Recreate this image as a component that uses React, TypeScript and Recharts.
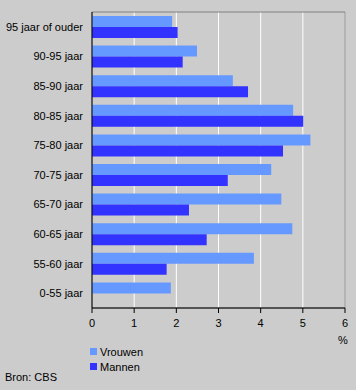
import { BarChart, Bar, XAxis, YAxis, CartesianGrid, ReferenceArea } from 'recharts';

const categories = [
  '95 jaar of ouder',
  '90-95 jaar',
  '85-90 jaar',
  '80-85 jaar',
  '75-80 jaar',
  '70-75 jaar',
  '65-70 jaar',
  '60-65 jaar',
  '55-60 jaar',
  '0-55 jaar',
];
const vrouwen = [1.9, 2.49, 3.34, 4.77, 5.18, 4.25, 4.49, 4.75, 3.84, 1.87];
const mannen = [2.03, 2.15, 3.7, 5.01, 4.53, 3.22, 2.3, 2.72, 1.77, 0];
const xTicks = [0, 1, 2, 3, 4, 5, 6];

const data = categories.map((name, i) => ({
  name,
  Vrouwen: vrouwen[i],
  Mannen: mannen[i],
}));

const font = '"Liberation Sans", Arial, sans-serif';

const legendItems = [
  { label: 'Vrouwen', color: '#6699ff' },
  { label: 'Mannen', color: '#3333ff' },
];

function YTick(props: any) {
  const { y, payload } = props;
  return (
    <text x={83} y={y} dy={4} textAnchor="end" fill="#000" fontSize={11} fontFamily={font}>
      {payload.value}
    </text>
  );
}

export default function App() {
  return (
    <div
      style={{
        position: 'fixed',
        left: 0,
        top: 0,
        width: 356,
        height: 390,
        background: '#cccccc',
        fontFamily: font,
      }}
    >
      <BarChart
        width={356}
        height={390}
        data={data}
        layout="vertical"
        margin={{ top: 12, right: 11, left: 0, bottom: 52 }}
        barSize={11}
        barGap={0}
      >
        <CartesianGrid horizontal={false} stroke="#ffffff" strokeWidth={1} />
        <ReferenceArea x1={0} x2={6} fill="none" stroke="#808080" strokeWidth={1} ifOverflow="visible" />
        <XAxis
          type="number"
          domain={[0, 6]}
          ticks={xTicks}
          axisLine={{ stroke: '#000' }}
          tickLine={{ stroke: '#000' }}
          tickSize={5}
          tickMargin={6}
          tick={{ fill: '#000', fontSize: 11, fontFamily: font }}
          height={30}
        />
        <YAxis
          type="category"
          dataKey="name"
          width={92}
          axisLine={{ stroke: '#000' }}
          tickLine={false}
          tick={<YTick />}
          interval={0}
        />
        <Bar dataKey="Vrouwen" fill="#6699ff" isAnimationActive={false} />
        <Bar dataKey="Mannen" fill="#3333ff" isAnimationActive={false} />
      </BarChart>
      <div style={{ position: 'absolute', left: 90, top: 344, fontSize: 11, color: '#000' }}>
        {legendItems.map((it) => (
          <div key={it.label} style={{ display: 'flex', alignItems: 'center', height: 15 }}>
            <span style={{ width: 7, height: 7, background: it.color, marginRight: 3, display: 'inline-block' }} />
            <span>{it.label}</span>
          </div>
        ))}
      </div>
      <div style={{ position: 'absolute', left: 338, top: 334, fontSize: 11, color: '#000' }}>%</div>
      <div style={{ position: 'absolute', left: 5, top: 371, fontSize: 11, color: '#000' }}>Bron: CBS</div>
    </div>
  );
}
